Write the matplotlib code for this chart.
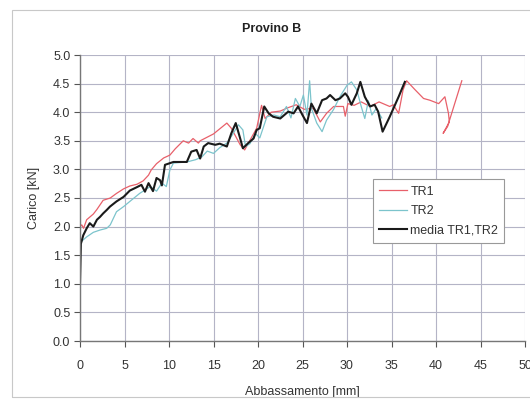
import numpy as np
import matplotlib.pyplot as plt
from matplotlib.patches import Rectangle

plt.rcParams['font.family'] = ['Liberation Sans', 'DejaVu Sans']

# TR1 (red)
tr1_x = [0, 0.2, 0.4, 0.75, 1.5, 1.9, 2.6, 3.4, 4.1, 4.9, 5.6, 6.4, 7.1, 7.7, 8.0, 8.6,
         9.4, 10.1, 10.7, 11.6, 12.2, 12.7, 13.3, 13.5, 15.0, 16.5, 17.0, 18.0, 18.5,
         19.1, 19.85, 20.4, 20.8, 21.5, 22.5, 23.4, 24.3, 25.2, 26.2, 27.0, 27.7, 28.5,
         29.6, 29.8, 30.1, 30.8, 31.6, 32.6, 33.6, 34.8, 35.2, 35.8, 36.3, 36.7, 37.6,
         38.6, 39.3, 40.3, 41.0, 41.4, 41.5, 40.8, 41.3, 41.7, 42.9]
tr1_y = [2.0, 2.03, 1.97, 2.12, 2.22, 2.3, 2.46, 2.5, 2.58, 2.66, 2.71, 2.74, 2.8, 2.9,
         2.99, 3.1, 3.2, 3.25, 3.36, 3.5, 3.46, 3.54, 3.46, 3.5, 3.62, 3.81, 3.72, 3.43,
         3.34, 3.51, 3.72, 4.12, 3.89, 4.0, 4.02, 4.08, 4.13, 4.05, 4.07, 3.83, 3.98, 4.1,
         4.1, 3.93, 4.15, 4.12, 4.18, 4.1, 4.18, 4.1, 4.13, 3.98, 4.39, 4.55, 4.4, 4.24,
         4.21, 4.15, 4.27, 3.98, 3.83, 3.63, 3.75, 3.95, 4.55]

# TR2 (light blue)
tr2_x = [0, 0.75, 1.5, 2.25, 3.0, 3.4, 4.1, 4.9, 5.6, 6.7, 7.9, 8.6, 9.2, 9.7, 10.1,
         10.5, 12.0, 13.0, 13.7, 14.3, 15.0, 15.7, 16.5, 17.1, 17.8, 18.3, 18.6, 19.1,
         19.7, 20.2, 21.0, 21.8, 22.5, 23.2, 23.7, 24.2, 24.7, 25.1, 25.5, 25.8, 26.0,
         26.6, 27.2, 27.7, 28.5, 29.2, 30.0, 30.5, 31.1, 31.6, 32.0, 32.4, 32.8, 33.3,
         33.9]
tr2_y = [1.72, 1.82, 1.9, 1.94, 1.97, 2.03, 2.26, 2.35, 2.44, 2.58, 2.7, 2.62, 2.76,
         2.7, 2.99, 3.11, 3.13, 3.17, 3.22, 3.32, 3.28, 3.38, 3.46, 3.6, 3.78, 3.69, 3.4,
         3.45, 3.63, 3.55, 3.92, 3.95, 3.92, 4.1, 3.9, 4.24, 4.1, 4.3, 3.95, 4.55, 4.07,
         3.81, 3.66, 3.86, 4.05, 4.27, 4.47, 4.53, 4.39, 4.1, 3.89, 4.2, 3.95, 4.07, 3.9]

# media TR1, TR2 (black)
med_x = [0, 0.1, 0.37, 0.75, 1.1, 1.5, 1.9, 2.25, 2.6, 3.0, 3.37, 4.1, 4.9, 5.6, 6.4,
         6.9, 7.3, 7.7, 8.2, 8.6, 9.0, 9.2, 9.55, 10.5, 12.0, 12.5, 13.1, 13.5, 13.9,
         14.4, 15.2, 15.7, 16.5, 17.0, 17.5, 18.0, 18.3, 18.9, 19.5, 19.85, 20.2, 20.7,
         21.2, 21.7, 22.5, 23.4, 24.0, 24.5, 25.0, 25.5, 26.0, 26.6, 27.2, 27.7, 28.1,
         28.7, 29.2, 29.8, 30.1, 30.5, 31.1, 31.5, 32.0, 32.6, 33.1, 33.5, 34.0, 34.8,
         35.8, 36.5]
med_y = [1.0, 1.7, 1.85, 1.97, 2.06, 2.0, 2.12, 2.17, 2.23, 2.29, 2.35, 2.44, 2.52,
         2.63, 2.69, 2.73, 2.61, 2.76, 2.62, 2.85, 2.81, 2.72, 3.08, 3.13, 3.13, 3.31,
         3.34, 3.19, 3.4, 3.46, 3.43, 3.45, 3.4, 3.63, 3.81, 3.54, 3.37, 3.46, 3.54,
         3.69, 3.72, 4.1, 3.98, 3.92, 3.89, 4.01, 3.98, 4.1, 3.95, 3.81, 4.15, 3.98,
         4.21, 4.24, 4.3, 4.21, 4.24, 4.33, 4.27, 4.13, 4.33, 4.53, 4.27, 4.1, 4.13,
         4.01, 3.66, 3.92, 4.27, 4.53]

x_ticks = np.arange(0, 51, 5)
y_ticks = np.arange(0, 5.01, 0.5)

fig = plt.figure(figsize=(5.3, 3.99), dpi=100)
# outer chart border
fig.patches.append(Rectangle((12 / 530, 0.004), 1.0, 1 - 10 / 399 - 0.004,
                             transform=fig.transFigure, fill=False,
                             edgecolor='#c8c8c8', lw=0.8))

ax = fig.add_axes([80 / 530, 1 - 341 / 399, 445 / 530, 286 / 399])
ax.set_xlim(0, 50)
ax.set_ylim(0, 5.0)
ax.set_xticks(x_ticks)
ax.set_yticks(y_ticks)
ax.set_xticklabels([str(v) for v in x_ticks])
ax.set_yticklabels(['%.1f' % v for v in y_ticks])
ax.grid(True, color='#b4b4c6', lw=0.8)
ax.set_axisbelow(True)

ax.plot(tr1_x, tr1_y, color='#e8606a', lw=0.9, label='TR1')
ax.plot(tr2_x, tr2_y, color='#7cc4cc', lw=0.9, label='TR2')
ax.plot(med_x, med_y, color='#1a1a1a', lw=1.5, label='media TR1,TR2')

for s in ['top', 'right']:
    ax.spines[s].set_visible(False)
for s in ['left', 'bottom']:
    ax.spines[s].set_color('#777777')
    ax.spines[s].set_linewidth(1.0)
ax.tick_params(axis='both', labelsize=9, colors='#555555', labelcolor='#333333',
               length=4, width=0.8)
ax.tick_params(axis='y', pad=3)
ax.tick_params(axis='x', pad=10)

fig.text(272 / 530, 1 - 29 / 399, 'Provino B', ha='center', va='center',
         fontsize=9, fontweight='bold', color='#222222')
ax.set_xlabel('Abbassamento [mm]', fontsize=9, color='#333333', labelpad=10)
ax.set_ylabel('Carico [kN]', fontsize=9, color='#333333', labelpad=9)

leg = ax.legend(loc='upper left', bbox_to_anchor=(0.658, 0.565), fontsize=9,
                frameon=True, fancybox=False, framealpha=1, edgecolor='#999999',
                handlelength=2.2, handletextpad=0.3, borderpad=0.5,
                labelspacing=0.6, borderaxespad=0)
leg.get_frame().set_linewidth(0.8)
for t in leg.get_texts():
    t.set_color('#333333')

fig.savefig('out.png', dpi=100)
